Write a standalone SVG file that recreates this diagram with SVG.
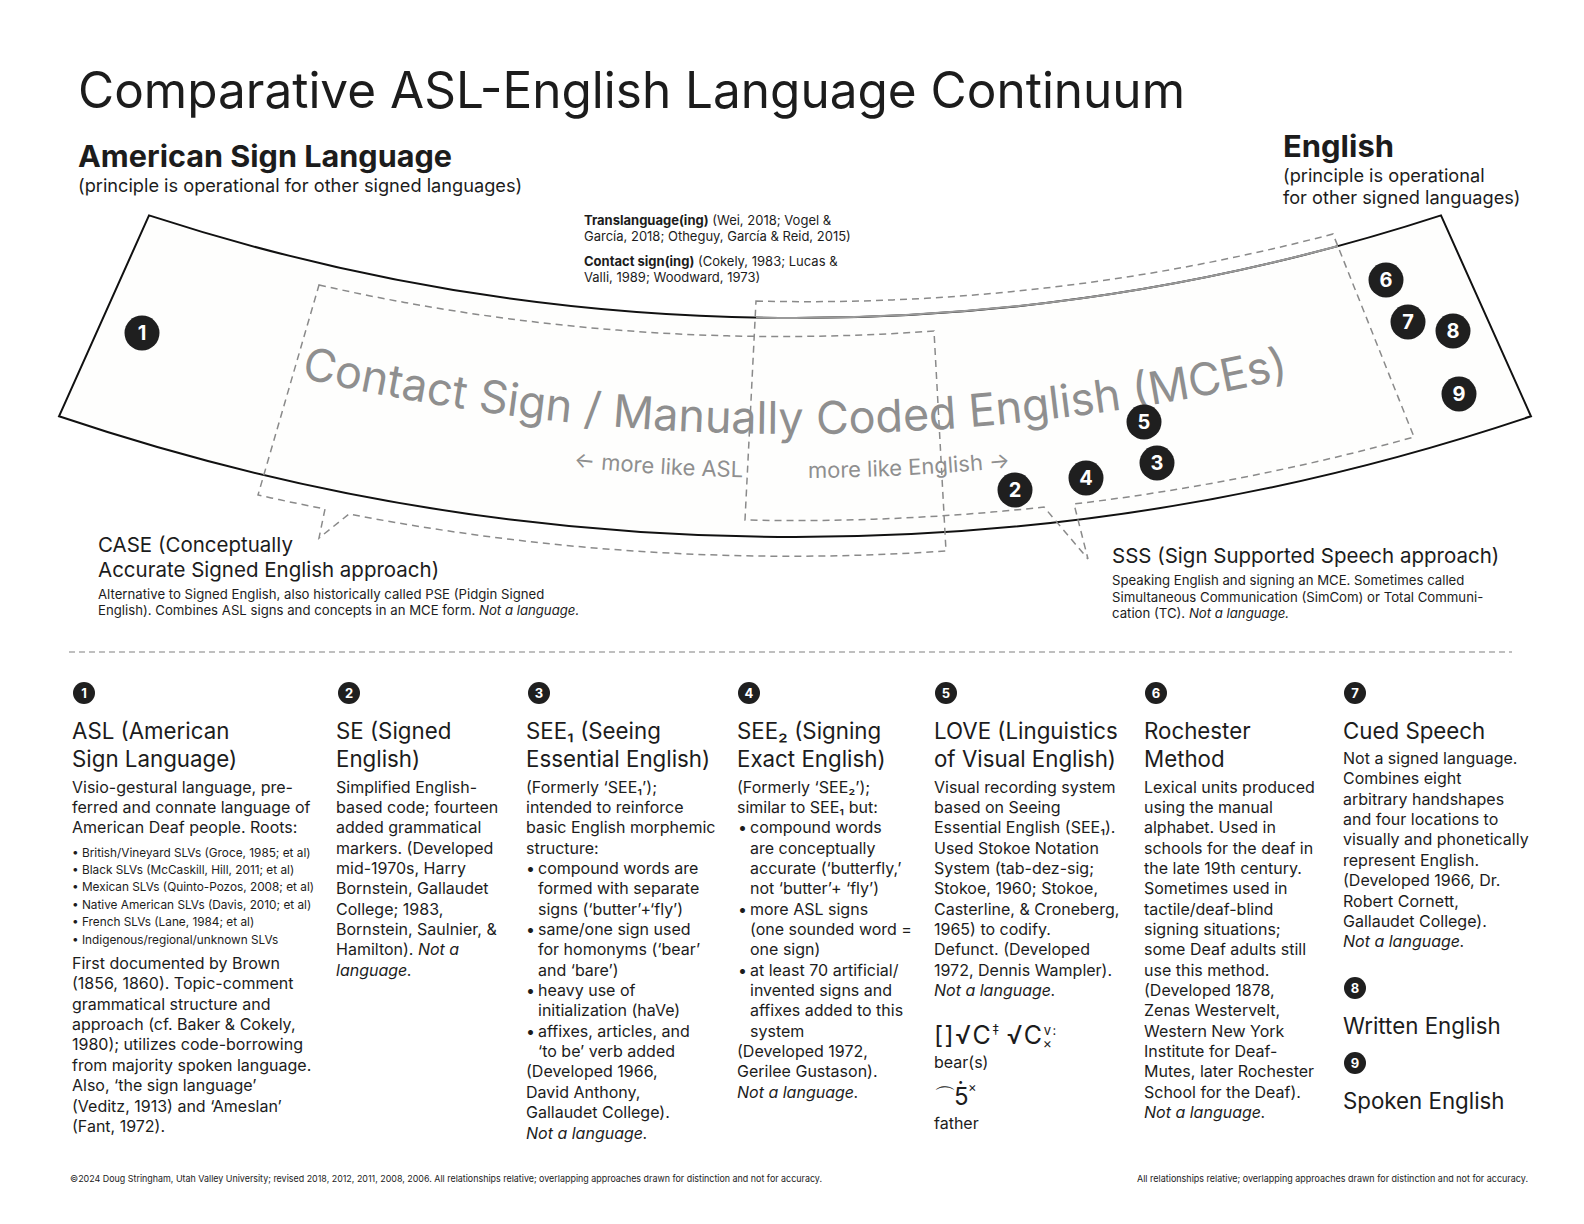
<svg xmlns="http://www.w3.org/2000/svg" width="1584" height="1224" viewBox="0 0 1584 1224">
<style>
text{font-family:Inter,"Liberation Sans","DejaVu Sans",sans-serif;fill:#1c1c1c}
.title{font-size:50px}
.h1{font-size:30px;font-weight:700}
.sub{font-size:18.2px}
.lbl{font-size:20.5px}
.sm{font-size:13.2px}
.xs{font-size:13px}
.hd{font-size:22.3px}
.bd{font-size:16px}
.bl{font-size:11.8px}
.big{font-size:45px;fill:#8f8f8f}
.ml{font-size:22px;fill:#8f8f8f}
.num{font-size:20px;font-weight:700;fill:#fff;text-anchor:middle}
.nums{font-size:13px;font-weight:700;fill:#fff;text-anchor:middle}
.it{font-style:italic}
.b{font-weight:700}
.dash{fill:none;stroke:#8a8a8a;stroke-width:1.5;stroke-dasharray:7 5}
.dot{fill:#1f1f1f}
.foot{font-size:9.5px}
</style>
<defs>
<path id="bigArc" d="M280,372.9 A2201,2201 0 0 0 1310,372.9"/>
<path id="mlArc" d="M300,422.7 A2245,2245 0 0 0 1290,422.7"/>
</defs>
<rect width="1584" height="1224" fill="#fff"/>

<text class="title" x="78" y="108" textLength="1107" lengthAdjust="spacingAndGlyphs">Comparative ASL-English Language Continuum</text>

<g id="asl-header">
<text class="h1" x="78" y="167" textLength="374" lengthAdjust="spacingAndGlyphs">American Sign Language</text>
<text class="sub" x="78" y="192">(principle is operational for other signed languages)</text>
</g>
<g id="english-header">
<text class="h1" x="1283" y="157" textLength="111" lengthAdjust="spacingAndGlyphs">English</text>
<text class="sub" x="1283" y="182">(principle is operational</text>
<text class="sub" x="1283" y="204">for other signed languages)</text>
</g>

<g id="continuum-band">
<path d="M149,215.4 A2085,2085 0 0 0 1441,215.4 L1531,416.3 A2304,2304 0 0 1 59,416.3 Z" fill="#fefefd" stroke="#111" stroke-width="2"/>
<path d="M756,317.6 A2085,2085 0 0 0 1338,246" fill="none" stroke="#9a9a9a" stroke-width="2"/>
</g>

<g id="translanguage-note">
<text class="xs" x="584" y="225"><tspan class="b">Translanguage(ing)</tspan> (Wei, 2018; Vogel &amp;</text>
<text class="xs" x="584" y="241">García, 2018; Otheguy, García &amp; Reid, 2015)</text>
<text class="xs" x="584" y="266"><tspan class="b">Contact sign(ing)</tspan> (Cokely, 1983; Lucas &amp;</text>
<text class="xs" x="584" y="282">Valli, 1989; Woodward, 1973)</text>
</g>

<g id="connectors">
<path id="case-region" class="dash" d="M319,285 A2104,2104 0 0 0 934,331 L946,551 A2324,2324 0 0 1 349,514 L319,538 L325,509 A2324,2324 0 0 1 258,495 Z"/>
<path id="sss-region" class="dash" d="M756,301 A2070,2070 0 0 0 1333,234 L1414,437 A2288,2288 0 0 1 1074,504 L1088,559 L1044,507 A2288,2288 0 0 1 745,520 Z"/>
</g>

<g id="mce-label">
<text class="big"><textPath href="#bigArc" startOffset="50%" text-anchor="middle">Contact Sign / Manually Coded English (MCEs)</textPath></text>
<text class="ml"><textPath href="#mlArc" startOffset="447" text-anchor="end">← more like ASL</textPath></text>
<text class="ml" font-size="23"><textPath href="#mlArc" startOffset="512">more like English →</textPath></text>
</g>

<g id="band-markers">
<g id="m1"><circle class="dot" cx="142" cy="333" r="17.5"/><text class="num" x="142" y="340">1</text></g>
<g id="m2"><circle class="dot" cx="1015" cy="490" r="17.5"/><text class="num" x="1015" y="497">2</text></g>
<g id="m3"><circle class="dot" cx="1157" cy="463" r="17.5"/><text class="num" x="1157" y="470">3</text></g>
<g id="m4"><circle class="dot" cx="1086" cy="478" r="17.5"/><text class="num" x="1086" y="485">4</text></g>
<g id="m5"><circle class="dot" cx="1144" cy="422" r="17.5"/><text class="num" x="1144" y="429">5</text></g>
<g id="m6"><circle class="dot" cx="1386" cy="280" r="17.5"/><text class="num" x="1386" y="287">6</text></g>
<g id="m7"><circle class="dot" cx="1408" cy="322" r="17.5"/><text class="num" x="1408" y="329">7</text></g>
<g id="m8"><circle class="dot" cx="1453" cy="331" r="17.5"/><text class="num" x="1453" y="338">8</text></g>
<g id="m9"><circle class="dot" cx="1459" cy="394" r="17.5"/><text class="num" x="1459" y="401">9</text></g>
</g>

<g id="case-note">
<text class="lbl" x="98" y="552">CASE (Conceptually</text>
<text class="lbl" x="98" y="577">Accurate Signed English approach)</text>
<text class="sm" x="98" y="598.5">Alternative to Signed English, also historically called PSE (Pidgin Signed</text>
<text class="sm" x="98" y="614.7">English). Combines ASL signs and concepts in an MCE form. <tspan class="it">Not a language.</tspan></text>
</g>
<g id="sss-note">
<text class="lbl" x="1112" y="563">SSS (Sign Supported Speech approach)</text>
<text class="sm" x="1112" y="585.4">Speaking English and signing an MCE. Sometimes called</text>
<text class="sm" x="1112" y="601.5">Simultaneous Communication (SimCom) or Total Communi-</text>
<text class="sm" x="1112" y="617.7">cation (TC). <tspan class="it">Not a language.</tspan></text>
</g>

<line x1="69" y1="652" x2="1512" y2="652" stroke="#aaa" stroke-width="1.5" stroke-dasharray="6 4"/>

<g id="col1">
<circle class="dot" cx="84" cy="693" r="11"/><text class="nums" x="84" y="697.7">1</text>
<text class="hd" x="72" y="739">ASL (American</text>
<text class="hd" x="72" y="767">Sign Language)</text>
<text class="bd" x="72" y="792.5">Visio-gestural language, pre-</text>
<text class="bd" x="72" y="812.9">ferred and connate language of</text>
<text class="bd" x="72" y="833.2">American Deaf people. Roots:</text>
<text class="bl" x="72" y="856.6">• British/Vineyard SLVs (Groce, 1985; et al)</text>
<text class="bl" x="72" y="874">• Black SLVs (McCaskill, Hill, 2011; et al)</text>
<text class="bl" x="72" y="891.4">• Mexican SLVs (Quinto-Pozos, 2008; et al)</text>
<text class="bl" x="72" y="908.8">• Native American SLVs (Davis, 2010; et al)</text>
<text class="bl" x="72" y="926.2">• French SLVs (Lane, 1984; et al)</text>
<text class="bl" x="72" y="943.6">• Indigenous/regional/unknown SLVs</text>
<text class="bd" x="72" y="969">First documented by Brown</text>
<text class="bd" x="72" y="989.4">(1856, 1860). Topic-comment</text>
<text class="bd" x="72" y="1009.7">grammatical structure and</text>
<text class="bd" x="72" y="1030.1">approach (cf. Baker &amp; Cokely,</text>
<text class="bd" x="72" y="1050.4">1980); utilizes code-borrowing</text>
<text class="bd" x="72" y="1070.8">from majority spoken language.</text>
<text class="bd" x="72" y="1091.1">Also, ‘the sign language’</text>
<text class="bd" x="72" y="1111.5">(Veditz, 1913) and ‘Ameslan’</text>
<text class="bd" x="72" y="1131.8">(Fant, 1972).</text>
</g>

<g id="col2">
<circle class="dot" cx="349" cy="693" r="11"/><text class="nums" x="349" y="697.7">2</text>
<text class="hd" x="336" y="739">SE (Signed</text>
<text class="hd" x="336" y="767">English)</text>
<text class="bd" x="336" y="792.5">Simplified English-</text>
<text class="bd" x="336" y="812.9">based code; fourteen</text>
<text class="bd" x="336" y="833.2">added grammatical</text>
<text class="bd" x="336" y="853.6">markers. (Developed</text>
<text class="bd" x="336" y="873.9">mid-1970s, Harry</text>
<text class="bd" x="336" y="894.3">Bornstein, Gallaudet</text>
<text class="bd" x="336" y="914.6">College; 1983,</text>
<text class="bd" x="336" y="935">Bornstein, Saulnier, &amp;</text>
<text class="bd" x="336" y="955.3">Hamilton). <tspan class="it">Not a</tspan></text>
<text class="bd it" x="336" y="975.7">language.</text>
</g>

<g id="col3">
<circle class="dot" cx="539" cy="693" r="11"/><text class="nums" x="539" y="697.7">3</text>
<text class="hd" x="526" y="739">SEE₁ (Seeing</text>
<text class="hd" x="526" y="767">Essential English)</text>
<text class="bd" x="526" y="792.5">(Formerly ‘SEE₁’);</text>
<text class="bd" x="526" y="812.9">intended to reinforce</text>
<text class="bd" x="526" y="833.2">basic English morphemic</text>
<text class="bd" x="526" y="853.6">structure:</text>
<text class="bd" x="526" y="873.9">•</text><text class="bd" x="538" y="873.9">compound words are</text>
<text class="bd" x="538" y="894.3">formed with separate</text>
<text class="bd" x="538" y="914.6">signs (‘butter’+‘fly’)</text>
<text class="bd" x="526" y="935">•</text><text class="bd" x="538" y="935">same/one sign used</text>
<text class="bd" x="538" y="955.3">for homonyms (‘bear’</text>
<text class="bd" x="538" y="975.7">and ‘bare’)</text>
<text class="bd" x="526" y="996">•</text><text class="bd" x="538" y="996">heavy use of</text>
<text class="bd" x="538" y="1016.4">initialization (haVe)</text>
<text class="bd" x="526" y="1036.7">•</text><text class="bd" x="538" y="1036.7">affixes, articles, and</text>
<text class="bd" x="538" y="1057.1">‘to be’ verb added</text>
<text class="bd" x="526" y="1077.4">(Developed 1966,</text>
<text class="bd" x="526" y="1097.8">David Anthony,</text>
<text class="bd" x="526" y="1118.1">Gallaudet College).</text>
<text class="bd it" x="526" y="1138.5">Not a language.</text>
</g>

<g id="col4">
<circle class="dot" cx="749" cy="693" r="11"/><text class="nums" x="749" y="697.7">4</text>
<text class="hd" x="737" y="739">SEE₂ (Signing</text>
<text class="hd" x="737" y="767">Exact English)</text>
<text class="bd" x="737" y="792.5">(Formerly ‘SEE₂’);</text>
<text class="bd" x="737" y="812.9">similar to SEE₁ but:</text>
<text class="bd" x="738" y="833.2">•</text><text class="bd" x="750" y="833.2">compound words</text>
<text class="bd" x="750" y="853.6">are conceptually</text>
<text class="bd" x="750" y="873.9">accurate (‘butterfly,’</text>
<text class="bd" x="750" y="894.3">not ‘butter’+ ‘fly’)</text>
<text class="bd" x="738" y="914.6">•</text><text class="bd" x="750" y="914.6">more ASL signs</text>
<text class="bd" x="750" y="935">(one sounded word =</text>
<text class="bd" x="750" y="955.3">one sign)</text>
<text class="bd" x="738" y="975.7">•</text><text class="bd" x="750" y="975.7">at least 70 artificial/</text>
<text class="bd" x="750" y="996">invented signs and</text>
<text class="bd" x="750" y="1016.4">affixes added to this</text>
<text class="bd" x="750" y="1036.7">system</text>
<text class="bd" x="737" y="1057.1">(Developed 1972,</text>
<text class="bd" x="737" y="1077.4">Gerilee Gustason).</text>
<text class="bd it" x="737" y="1097.8">Not a language.</text>
</g>

<g id="col5">
<circle class="dot" cx="946" cy="693" r="11"/><text class="nums" x="946" y="697.7">5</text>
<text class="hd" x="934" y="739">LOVE (Linguistics</text>
<text class="hd" x="934" y="767">of Visual English)</text>
<text class="bd" x="934" y="792.5">Visual recording system</text>
<text class="bd" x="934" y="812.9">based on Seeing</text>
<text class="bd" x="934" y="833.2">Essential English (SEE₁).</text>
<text class="bd" x="934" y="853.6">Used Stokoe Notation</text>
<text class="bd" x="934" y="873.9">System (tab-dez-sig;</text>
<text class="bd" x="934" y="894.3">Stokoe, 1960; Stokoe,</text>
<text class="bd" x="934" y="914.6">Casterline, &amp; Croneberg,</text>
<text class="bd" x="934" y="935">1965) to codify.</text>
<text class="bd" x="934" y="955.3">Defunct. (Developed</text>
<text class="bd" x="934" y="975.7">1972, Dennis Wampler).</text>
<text class="bd it" x="934" y="996">Not a language.</text>
<text x="934" y="1044" font-size="25" letter-spacing="1.5">[]√C<tspan font-size="14" dy="-9">‡</tspan><tspan dx="6" dy="9">√C</tspan><tspan font-size="13" dy="-9">v:</tspan><tspan font-size="14" dx="-15" dy="13">×</tspan></text>
<text class="bd" x="934" y="1068">bear(s)</text>
<text x="934" y="1104" font-size="22">⌒</text>
<text x="954" y="1105" font-size="24">5<tspan dx="-11" dy="-15" font-size="22">·</tspan><tspan font-size="13" dx="4" dy="2">×</tspan></text>
<text class="bd" x="934" y="1129">father</text>
</g>

<g id="col6">
<circle class="dot" cx="1156" cy="693" r="11"/><text class="nums" x="1156" y="697.7">6</text>
<text class="hd" x="1144" y="739">Rochester</text>
<text class="hd" x="1144" y="767">Method</text>
<text class="bd" x="1144" y="792.5">Lexical units produced</text>
<text class="bd" x="1144" y="812.9">using the manual</text>
<text class="bd" x="1144" y="833.2">alphabet. Used in</text>
<text class="bd" x="1144" y="853.6">schools for the deaf in</text>
<text class="bd" x="1144" y="873.9">the late 19th century.</text>
<text class="bd" x="1144" y="894.3">Sometimes used in</text>
<text class="bd" x="1144" y="914.6">tactile/deaf-blind</text>
<text class="bd" x="1144" y="935">signing situations;</text>
<text class="bd" x="1144" y="955.3">some Deaf adults still</text>
<text class="bd" x="1144" y="975.7">use this method.</text>
<text class="bd" x="1144" y="996">(Developed 1878,</text>
<text class="bd" x="1144" y="1016.4">Zenas Westervelt,</text>
<text class="bd" x="1144" y="1036.7">Western New York</text>
<text class="bd" x="1144" y="1057.1">Institute for Deaf-</text>
<text class="bd" x="1144" y="1077.4">Mutes, later Rochester</text>
<text class="bd" x="1144" y="1097.8">School for the Deaf).</text>
<text class="bd it" x="1144" y="1118.1">Not a language.</text>
</g>

<g id="col7">
<circle class="dot" cx="1355" cy="693" r="11"/><text class="nums" x="1355" y="697.7">7</text>
<text class="hd" x="1343" y="739">Cued Speech</text>
<text class="bd" x="1343" y="764">Not a signed language.</text>
<text class="bd" x="1343" y="784.4">Combines eight</text>
<text class="bd" x="1343" y="804.7">arbitrary handshapes</text>
<text class="bd" x="1343" y="825.1">and four locations to</text>
<text class="bd" x="1343" y="845.4">visually and phonetically</text>
<text class="bd" x="1343" y="865.8">represent English.</text>
<text class="bd" x="1343" y="886.1">(Developed 1966, Dr.</text>
<text class="bd" x="1343" y="906.5">Robert Cornett,</text>
<text class="bd" x="1343" y="926.8">Gallaudet College).</text>
<text class="bd it" x="1343" y="947.2">Not a language.</text>
</g>
<g id="col8">
<circle class="dot" cx="1355" cy="988" r="11"/><text class="nums" x="1355" y="992.7">8</text>
<text class="hd" x="1343" y="1034">Written English</text>
</g>
<g id="col9">
<circle class="dot" cx="1355" cy="1063" r="11"/><text class="nums" x="1355" y="1067.7">9</text>
<text class="hd" x="1343" y="1109">Spoken English</text>
</g>

<text class="foot" x="70" y="1182" textLength="752" lengthAdjust="spacingAndGlyphs">©2024 Doug Stringham, Utah Valley University; revised 2018, 2012, 2011, 2008, 2006. All relationships relative; overlapping approaches drawn for distinction and not for accuracy.</text>
<text class="foot" x="1137" y="1182" font-size="8.5" textLength="391" lengthAdjust="spacingAndGlyphs">All relationships relative; overlapping approaches drawn for distinction and not for accuracy.</text>
</svg>
